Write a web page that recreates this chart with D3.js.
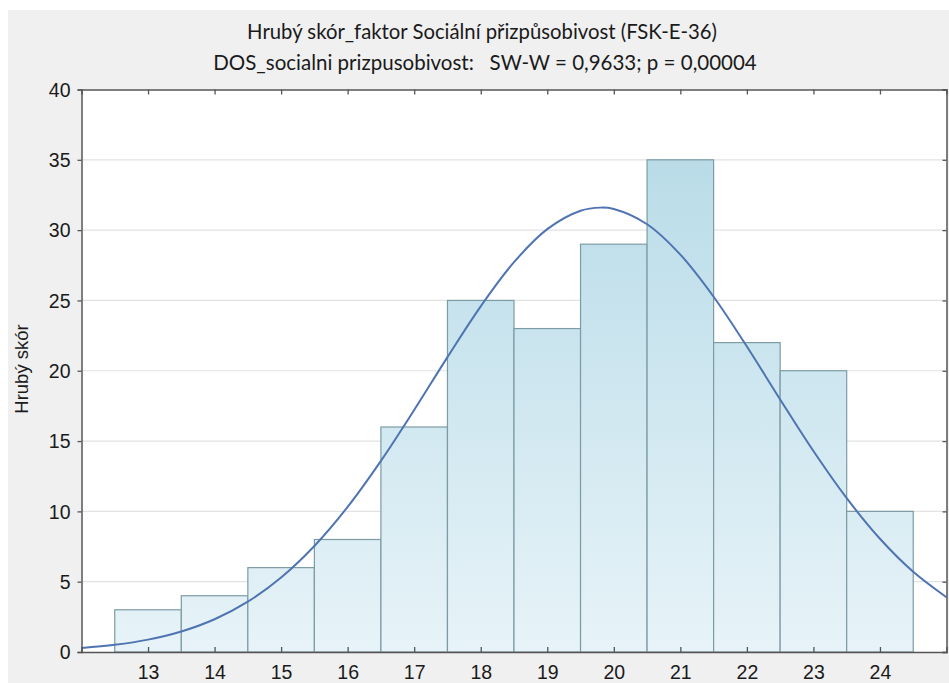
<!DOCTYPE html>
<html><head><meta charset="utf-8">
<script src="https://cdn.jsdelivr.net/npm/d3@7"></script>
<style>html,body{margin:0;padding:0;background:#fff;}</style>
</head><body>
<svg id="chart" width="949" height="683"></svg>
<script>
const categories = [13,14,15,16,17,18,19,20,21,22,23,24];
const counts = [3,4,6,8,16,25,23,29,35,22,20,10];
const yTicks = [0,5,10,15,20,25,30,35,40];
const curveX = [12,12.5,13,13.5,14,14.5,15,15.5,16,16.5,17,17.5,18,18.5,19,19.5,19.8,20,20.5,21,21.5,22,22.5,23,23.5,24,24.5,25];
const curveY = [0.28,0.51,0.88,1.46,2.33,3.58,5.3,7.54,10.32,13.59,17.21,20.97,24.58,27.72,30.07,31.38,31.6,31.5,30.42,28.26,25.26,21.72,17.96,14.29,10.94,8.05,5.7,3.89];
const title1 = "Hrubý skór_faktor Sociální přizpůsobivost (FSK-E-36)";
const title2 = "DOS_socialni prizpusobivost:   SW-W = 0,9633; p = 0,00004";
const yTitle = "Hrubý skór";

const svg = d3.select("#chart");
const W = 949, H = 683;
const L = 81.5, R = 946.5, T = 89.5, B = 652;

svg.append("rect").attr("x",8).attr("y",10).attr("width",W-8).attr("height",H-10).attr("fill","#f0f0f0");
svg.append("rect").attr("x",L).attr("y",T).attr("width",R-L).attr("height",B-T).attr("fill","#ffffff");

const x = d3.scaleLinear().domain([12,25]).range([L,R]);
const y = d3.scaleLinear().domain([0,40]).range([B,T]);

const defs = svg.append("defs");
const grad = defs.append("linearGradient").attr("id","barGrad")
  .attr("gradientUnits","userSpaceOnUse").attr("x1",0).attr("x2",0)
  .attr("y1",y(35)).attr("y2",y(0));
grad.append("stop").attr("offset","0").attr("stop-color","#b9dce8");
grad.append("stop").attr("offset","1").attr("stop-color","#e7f3f8");

// grid
svg.append("g").selectAll("line").data(yTicks.filter(d=>d>0&&d<40)).join("line")
  .attr("x1",L).attr("x2",R).attr("y1",d=>y(d)).attr("y2",d=>y(d))
  .attr("stroke","#e2e2e2").attr("stroke-width",1.2);

// bars
svg.append("g").selectAll("rect").data(categories).join("rect")
  .attr("x",(d)=>x(d-0.5)).attr("width",d=>x(d+0.5)-x(d-0.5))
  .attr("y",(d,i)=>y(counts[i])).attr("height",(d,i)=>y(0)-y(counts[i]))
  .attr("fill","url(#barGrad)").attr("stroke","#7c9ba5").attr("stroke-width",1.2);

// curve
const pts = curveX.map((v,i)=>[v,curveY[i]]);
svg.append("path").datum(pts)
  .attr("d", d3.line().x(d=>x(d[0])).y(d=>y(d[1])).curve(d3.curveCatmullRom))
  .attr("fill","none").attr("stroke","#4f74b2").attr("stroke-width",2);

// axes
const axisColor = "#555";
const gB = svg.append("g").attr("transform",`translate(0,${B})`)
  .call(d3.axisBottom(x).tickValues(categories).tickSize(-5).tickPadding(13).tickFormat(d3.format("d")));
const gT = svg.append("g").attr("transform",`translate(0,${T})`)
  .call(d3.axisTop(x).tickValues(categories).tickSize(-5).tickFormat(""));
const gL = svg.append("g").attr("transform",`translate(${L},0)`)
  .call(d3.axisLeft(y).tickValues(yTicks).tickSize(4).tickPadding(7));
const gR = svg.append("g").attr("transform",`translate(${R},0)`)
  .call(d3.axisRight(y).tickValues(yTicks).tickSize(-4).tickFormat(""));
[gB,gT,gL,gR].forEach(g=>{
  g.select(".domain").attr("stroke",axisColor).attr("stroke-width",1.5);
  g.selectAll(".tick line").attr("stroke",axisColor).attr("stroke-width",1.3);
  g.selectAll("text").attr("font-family","Liberation Sans, Arial, sans-serif").attr("font-size",19.5).attr("fill","#1a1a1a");
});
gL.selectAll("text").attr("dy","0.35em");

// titles
function fitText(sel, target){
  const w = sel.node().getComputedTextLength();
  const fs = parseFloat(sel.attr("font-size"));
  sel.attr("font-size", fs*target/w);
}
const t1 = svg.append("text").attr("x",482).attr("y",39).attr("text-anchor","middle")
  .attr("font-family","Lato, Open Sans, sans-serif").attr("font-size",18).attr("fill","#1a1a1a").text(title1);
fitText(t1, 470);
const t2 = svg.append("text").attr("x",485).attr("y",70).attr("text-anchor","middle")
  .attr("font-family","Lato, Open Sans, sans-serif").attr("font-size",18).attr("fill","#1a1a1a")
  .attr("xml:space","preserve").style("white-space","pre").text(title2);
fitText(t2, 544);

svg.append("text").attr("transform","translate(28,369) rotate(-90)").attr("text-anchor","middle")
  .attr("font-family","Liberation Sans, Arial, sans-serif").attr("font-size",18.5).attr("fill","#1a1a1a").text(yTitle);
</script>
</body></html>
